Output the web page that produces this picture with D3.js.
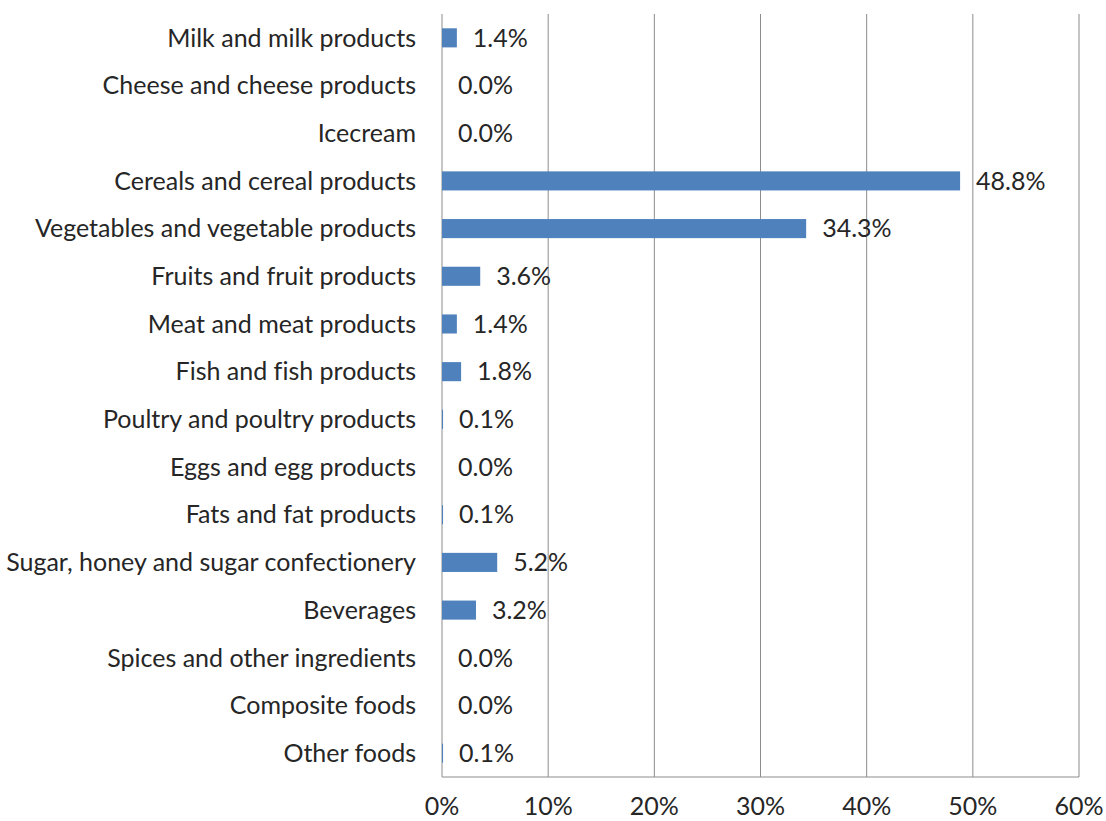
<!DOCTYPE html>
<html>
<head>
<meta charset="utf-8">
<script src="https://cdn.jsdelivr.net/npm/d3@7"></script>
<style>
  body { margin: 0; background: #fff; }
  svg { display: block; font-family: Lato, "Open Sans", sans-serif; font-variant-ligatures: none; }
</style>
</head>
<body>
<svg id="chart" width="1106" height="821"></svg>
<script>
const categories = [
  'Milk and milk products',
  'Cheese and cheese products',
  'Icecream',
  'Cereals and cereal products',
  'Vegetables and vegetable products',
  'Fruits and fruit products',
  'Meat and meat products',
  'Fish and fish products',
  'Poultry and poultry products',
  'Eggs and egg products',
  'Fats and fat products',
  'Sugar, honey and sugar confectionery',
  'Beverages',
  'Spices and other ingredients',
  'Composite foods',
  'Other foods'
];
const values = [1.4, 0.0, 0.0, 48.8, 34.3, 3.6, 1.4, 1.8, 0.1, 0.0, 0.1, 5.2, 3.2, 0.0, 0.0, 0.1];
const xTicks = [0, 10, 20, 30, 40, 50, 60];

const margin = { top: 14, right: 27, bottom: 44, left: 442 };
const width = 1106 - margin.left - margin.right;
const height = 821 - margin.top - margin.bottom;
const fontSize = '25px';

const svg = d3.select('#chart')
  .append('g')
  .attr('transform', `translate(${margin.left},${margin.top})`);

const x = d3.scaleLinear().domain([0, 60]).range([0, width]);
const y = d3.scaleBand().domain(categories).range([0, height]).paddingInner(0.6).paddingOuter(0.3);

// Grid
svg.append('g')
  .selectAll('line')
  .data(xTicks)
  .join('line')
  .attr('x1', d => x(d)).attr('x2', d => x(d))
  .attr('y1', 0).attr('y2', height)
  .attr('stroke', '#8c8c8c')
  .attr('stroke-width', 1);

// bottom axis line
svg.append('line')
  .attr('x1', 0).attr('x2', width)
  .attr('y1', height).attr('y2', height)
  .attr('stroke', '#8c8c8c');

// Bars
svg.selectAll('.bar')
  .data(values)
  .join('rect')
  .attr('class', 'bar')
  .attr('x', 0)
  .attr('y', (d, i) => y(categories[i]))
  .attr('width', d => x(d))
  .attr('height', y.bandwidth())
  .attr('fill', '#4f81bd');

// Data labels
svg.selectAll('.val')
  .data(values)
  .join('text')
  .attr('class', 'val')
  .attr('x', d => x(d) + 16)
  .attr('y', (d, i) => y(categories[i]) + y.bandwidth() / 2)
  .attr('dy', '0.35em')
  .style('font-size', fontSize)
  .style('fill', '#262626')
  .text(d => d.toFixed(1) + '%');

// Category labels
svg.selectAll('.cat')
  .data(categories)
  .join('text')
  .attr('class', 'cat')
  .attr('x', -26)
  .attr('y', d => y(d) + y.bandwidth() / 2)
  .attr('dy', '0.35em')
  .attr('text-anchor', 'end')
  .style('font-size', fontSize)
  .style('fill', '#262626')
  .text(d => d);

// X tick labels
svg.selectAll('.tick-label')
  .data(xTicks)
  .join('text')
  .attr('class', 'tick-label')
  .attr('x', d => x(d))
  .attr('y', height + 29)
  .attr('dy', '0.35em')
  .attr('text-anchor', 'middle')
  .style('font-size', fontSize)
  .style('fill', '#262626')
  .text(d => d + '%');
</script>
</body>
</html>
